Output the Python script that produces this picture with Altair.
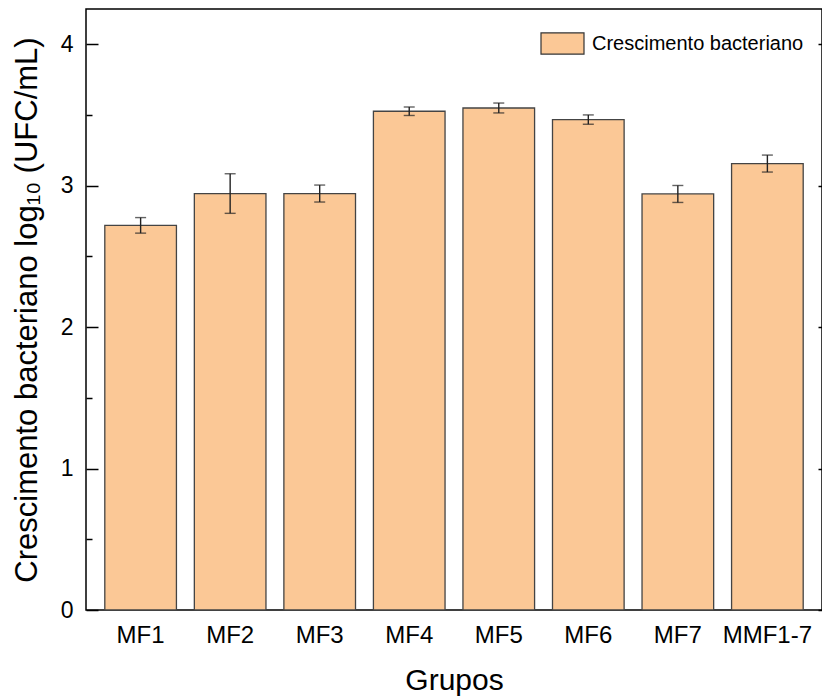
import altair as alt
import pandas as pd

# ---- data ----
grupos = ["MF1", "MF2", "MF3", "MF4", "MF5", "MF6", "MF7", "MMF1-7"]
valores = [2.72, 2.945, 2.945, 3.527, 3.55, 3.468, 2.942, 3.157]
erros = [0.055, 0.14, 0.06, 0.03, 0.035, 0.033, 0.06, 0.06]
serie = "Crescimento bacteriano"
y_major = [0, 1, 2, 3, 4]
y_all = [0, 0.5, 1, 1.5, 2, 2.5, 3, 3.5, 4]

df = pd.DataFrame({
    "grupo": grupos,
    "valor": valores,
    "erro": erros,
    "serie": [serie] * len(grupos),
})

FONT = "Liberation Sans"
W, H = 736, 601
ydom = [0, 4.25]

xenc = alt.X(
    "grupo:N", sort=grupos,
    scale=alt.Scale(paddingInner=0.2, paddingOuter=0.21),
    axis=alt.Axis(
        title="Grupos", ticks=False, domain=False, labelAngle=0,
        labelPadding=13, labelFontSize=24, titleFontSize=30, titlePadding=18,
        labelFont=FONT, titleFont=FONT, titleFontWeight="normal",
        labelColor="black", titleColor="black",
    ),
)

bars = alt.Chart(df).mark_bar(stroke="#444", strokeWidth=1.3, opacity=1).encode(
    x=xenc,
    y=alt.Y(
        "valor:Q",
        scale=alt.Scale(domain=ydom, nice=False),
        axis=alt.Axis(
            title="Crescimento bacteriano log₁₀ (UFC/mL)",
            values=y_major, format="d", ticks=False, domain=False, grid=False,
            labelPadding=13, labelFontSize=23, titleFontSize=31, titlePadding=17,
            labelFont=FONT, titleFont=FONT, titleFontWeight="normal",
            labelColor="black", titleColor="black",
        ),
    ),
    color=alt.Color(
        "serie:N",
        scale=alt.Scale(domain=[serie], range=["#FBC896"]),
        legend=alt.Legend(
            title=None, orient="none", legendX=454, legendY=12, padding=0,
            labelFontSize=20, labelFont=FONT, labelColor="black", labelOffset=7,
            labelLimit=400,
            symbolType="M-1,-0.49L1,-0.49L1,0.49L-1,0.49Z", symbolSize=1849,
            symbolStrokeColor="#333", symbolStrokeWidth=1.2, symbolOpacity=1,
        ),
    ),
)

rules = alt.Chart(df).transform_calculate(
    lo="datum.valor - datum.erro", hi="datum.valor + datum.erro"
).mark_rule(color="#222", strokeWidth=1.4).encode(
    x=alt.X("grupo:N", sort=grupos),
    y=alt.Y(
        "lo:Q",
        scale=alt.Scale(domain=ydom, nice=False),
        axis=alt.Axis(
            orient="right", offset=-W, values=y_all, labels=False, domain=False,
            grid=False, title=None, tickColor="black", tickWidth=1.5,
            tickSize={"condition": {"test": "datum.value % 1 === 0", "value": 12}, "value": 6},
        ),
    ),
    y2="hi:Q",
)

caps = alt.Chart(df).transform_calculate(
    lo="datum.valor - datum.erro", hi="datum.valor + datum.erro"
).transform_fold(["lo", "hi"], as_=["k", "v"]).mark_tick(
    color="#222", thickness=1.4, size=11
).encode(
    x=alt.X("grupo:N", sort=grupos),
    y=alt.Y(
        "v:Q",
        scale=alt.Scale(domain=ydom, nice=False),
        axis=alt.Axis(
            orient="left", offset=-W, values=y_major, labels=False, domain=False,
            grid=False, title=None, tickColor="black", tickWidth=1.5, tickSize=4,
        ),
    ),
)

chart = alt.layer(bars, rules, caps).resolve_scale(y="independent").properties(
    width=W, height=H,
    padding={"left": 86, "top": 9, "right": 0, "bottom": 87},
    autosize=alt.AutoSizeParams(type="none"),
).configure_view(stroke="black", strokeWidth=1.5)

chart.save("out.html", embed_options={"renderer": "svg", "actions": False})
